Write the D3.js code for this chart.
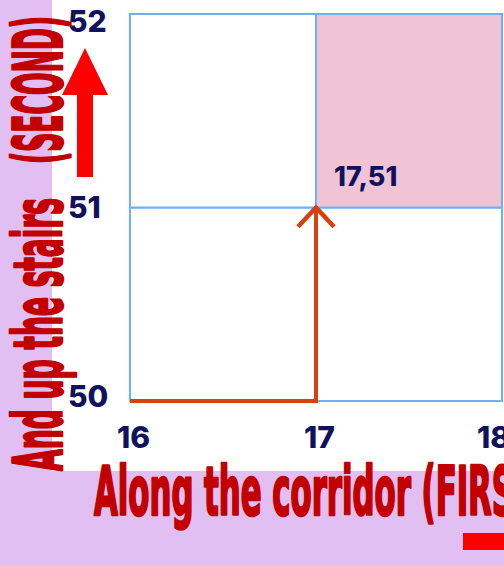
<!DOCTYPE html>
<html>
<head>
<meta charset="utf-8">
<script src="https://cdn.jsdelivr.net/npm/d3@7"></script>
<style>
  html, body { margin: 0; padding: 0; background: #e2bff2; }
  svg { display: block; }
</style>
</head>
<body>
<svg id="canvas"></svg>
<script>
// data
let xTicks = [16, 17, 18];
let yTicks = [50, 51, 52];
let cellsX = [16, 17];
let cellsY = [50, 51];
let target = [17, 51];
let route = [[16, 50], [17, 50], [17, 51]];
let xTitle = "Along the corridor (FIRST)";
let yTitle = ["And up the stairs", "(SECOND)"];

let width = 504;
let height = 565;

let canvas = d3.select('#canvas');
canvas.attr('width', width);
canvas.attr('height', height);

// scales
let xScale = d3.scaleLinear().domain([16, 18]).range([130, 502]);
let yScale = d3.scaleLinear().domain([50, 52]).range([401, 14]);

// white panel
canvas.append('rect')
    .attr('x', 52).attr('y', 0)
    .attr('width', width - 52).attr('height', 471)
    .attr('fill', 'white');

// cells
let cells = [];
cellsX.forEach(cx => cellsY.forEach(cy => cells.push({ x: cx, y: cy })));

canvas.append('g')
    .selectAll('rect')
    .data(cells)
    .enter()
    .append('rect')
    .attr('x', d => xScale(d.x))
    .attr('y', d => yScale(d.y + 1))
    .attr('width', d => xScale(d.x + 1) - xScale(d.x))
    .attr('height', d => yScale(d.y) - yScale(d.y + 1))
    .attr('fill', d => (d.x === target[0] && d.y === target[1]) ? '#f0c4d5' : 'white')
    .attr('stroke', '#6eb0fb')
    .attr('stroke-width', 2);

// cell label
canvas.append('text')
    .attr('x', xScale(target[0]) + 18)
    .attr('y', yScale(target[1]) - 22)
    .attr('font-family', 'Inter, "Noto Sans", sans-serif')
    .attr('font-weight', 800)
    .attr('font-size', 27)
    .attr('fill', '#11115e')
    .text(target.join(','));

// route with arrow head
canvas.append('defs')
    .append('marker')
    .attr('id', 'chev')
    .attr('viewBox', '0 0 20 20')
    .attr('refX', 10).attr('refY', 10)
    .attr('markerWidth', 12).attr('markerHeight', 12)
    .attr('markerUnits', 'strokeWidth')
    .attr('orient', 'auto')
    .append('path')
    .attr('d', 'M2,2.5 L10,10 L2,17.5')
    .attr('fill', 'none')
    .attr('stroke', '#d5420f')
    .attr('stroke-width', 1.9);

canvas.append('path')
    .datum(route)
    .attr('d', d3.line().x(d => xScale(d[0])).y(d => yScale(d[1])))
    .attr('fill', 'none')
    .attr('stroke', '#d5420f')
    .attr('stroke-width', 4)
    .attr('marker-end', 'url(#chev)');

// axes
let xAxis = d3.axisBottom(xScale).tickValues(xTicks).tickSize(0).tickFormat(d3.format('d'));
let yAxis = d3.axisLeft(yScale).tickValues(yTicks).tickSize(0).tickFormat(d3.format('d'));

let gx = canvas.append('g')
    .attr('transform', `translate(0, ${yScale(50)})`)
    .call(xAxis);
gx.select('.domain').remove();
gx.selectAll('text')
    .attr('x', d => Math.min(xScale(d), 490) - xScale(d) + 3)
    .attr('y', 0)
    .attr('dy', 47)
    .attr('font-family', 'Inter, "Noto Sans", sans-serif')
    .attr('font-weight', 800)
    .attr('font-size', 30)
    .attr('fill', '#11115e');

let gy = canvas.append('g')
    .attr('transform', 'translate(68, 0)')
    .call(yAxis);
gy.select('.domain').remove();
gy.selectAll('text')
    .attr('text-anchor', 'start')
    .attr('x', 0)
    .attr('dy', d => Math.min(Math.max(yScale(d), 21), 396) - yScale(d) + 10)
    .attr('font-family', 'Inter, "Noto Sans", sans-serif')
    .attr('font-weight', 800)
    .attr('font-size', 30)
    .attr('fill', '#11115e');

// axis titles
let titleFont = '"DejaVu Sans Condensed", "DejaVu Sans", sans-serif';

let heavy = sel => sel
    .attr('font-family', titleFont)
    .attr('font-weight', 'bold')
    .attr('font-stretch', 'condensed')
    .attr('font-size', 67)
    .attr('fill', '#c20000')
    .attr('stroke', '#c20000')
    .attr('stroke-width', 2.5)
    .attr('stroke-linejoin', 'round')
    .attr('lengthAdjust', 'spacingAndGlyphs');

canvas.append('text')
    .attr('x', 94).attr('y', 515)
    .call(heavy)
    .attr('textLength', 455)
    .text(xTitle);

canvas.append('text')
    .attr('transform', 'translate(62, 471) rotate(-90)')
    .call(heavy)
    .attr('textLength', 273)
    .text(yTitle[0]);

canvas.append('text')
    .attr('transform', 'translate(62, 164) rotate(-90)')
    .call(heavy)
    .attr('textLength', 148)
    .text(yTitle[1]);

// direction arrows
canvas.append('path')
    .attr('d', 'M85,48 L108,95 L93,95 L93,177 L77,177 L77,95 L62,95 Z')
    .attr('fill', '#ff0000');

canvas.append('path')
    .attr('d', 'M463,533 L520,533 L520,525 L545,541 L520,558 L520,550 L463,550 Z')
    .attr('fill', '#ff0000');
</script>
</body>
</html>
